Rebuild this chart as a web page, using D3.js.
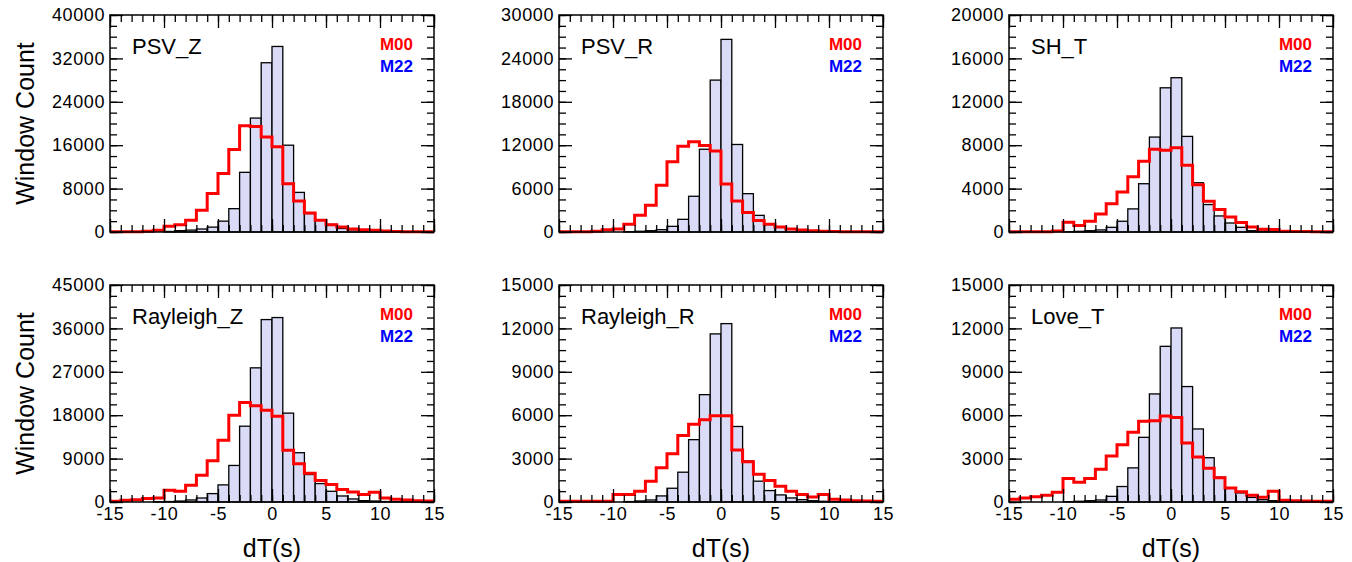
<!DOCTYPE html>
<html>
<head>
<meta charset="utf-8">
<script src="https://cdnjs.cloudflare.com/ajax/libs/d3/7.8.5/d3.min.js"></script>
<style>
body { margin: 0; background: #fff; }
text { font-family: "Liberation Sans", Arial, Helvetica, sans-serif; }
</style>
</head>
<body>
<div id="svgcontainer"></div>
<script>
// bins of 1 s from -15 to 15
var binStarts = d3.range(-15, 15, 1);
var xMajor = [-15, -10, -5, 0, 5, 10, 15];

var panelNames = ["PSV_Z", "PSV_R", "SH_T", "Rayleigh_Z", "Rayleigh_R", "Love_T"];
var yMaxes = [40000, 30000, 20000, 45000, 15000, 15000];
var legendLabels = ["M00", "M22"];

var m22_psvZ = [0,0,0,0,0,100,250,350,550,900,2000,4300,11000,21000,31200,34200,16000,7300,3400,2150,1400,650,400,250,150,80,30,20,10,0];
var m00_psvZ = [50,50,50,150,300,1050,1350,2150,4000,7100,10800,15200,19600,19450,17500,15700,8900,5700,3500,2150,1350,900,550,430,300,180,100,60,40,30];

var m22_psvR = [0,0,0,0,0,0,50,100,180,320,780,1750,4940,11440,21000,26630,12100,5300,2300,1150,650,400,270,180,100,50,30,20,10,0];
var m00_psvR = [30,30,30,90,320,400,1060,2300,3700,6460,9700,11860,12460,11950,11200,6650,4300,2680,1600,1060,700,400,270,180,90,60,40,30,20,20];

var m22_shT = [0,0,0,0,0,30,60,120,190,430,990,2130,4450,8750,13290,14220,8810,4540,2530,1480,830,430,120,90,50,30,20,10,0,0];
var m00_shT = [30,30,30,30,90,900,590,990,1670,2600,3680,5100,6520,7630,7540,7760,6150,4360,2840,2070,1390,870,460,250,220,60,50,40,30,30];

var m22_rayZ = [0,0,0,0,50,100,200,420,830,1740,3550,7580,15720,27820,37830,38250,18430,10220,5700,3820,2220,1250,630,280,200,100,50,30,20,0];
var m00_rayZ = [140,350,490,700,830,2430,2220,3480,5560,8550,12800,18010,20650,19960,19050,17800,10710,7930,5980,4450,3620,2570,2090,1530,2020,830,560,420,280,200];

var m22_rayR = [0,0,0,0,0,0,30,70,140,420,950,2060,4310,7420,11620,12330,5220,2830,1440,790,490,280,160,90,50,30,20,10,0,0];
var m00_rayR = [50,50,50,50,50,510,510,740,1440,2360,3340,4590,5380,5680,5960,5960,3590,2780,1920,1480,1090,740,510,350,510,190,140,90,70,50];

var m22_loveT = [0,0,0,0,0,20,50,90,140,390,1070,2360,4470,7470,10760,12030,7980,5050,3060,1720,970,630,320,160,90,50,30,20,10,0];
var m00_loveT = [190,280,370,460,670,1620,1370,1620,2270,3180,3960,4820,5590,5610,5940,5840,4080,3110,2340,1670,970,700,460,320,740,120,90,70,60,50];

var m22All = [m22_psvZ, m22_psvR, m22_shT, m22_rayZ, m22_rayR, m22_loveT];
var m00All = [m00_psvZ, m00_psvR, m00_shT, m00_rayZ, m00_rayR, m00_loveT];

var width = 1352;
var height = 562;
var colLeft = [110, 559, 1009];
var rowTop = [15, 285];
var pw = 324;
var ph = 217;

var svg = d3.select("#svgcontainer")
   .append("svg")
   .attr("width", width)
   .attr("height", height);

// plain hyphen minus like the original
function plainLabel(d){ return String(d); }

panelNames.forEach(function(name, p){
   var col = p % 3;
   var row = Math.floor(p / 3);
   var x = d3.scaleLinear().domain([-15, 15]).range([0, pw]);
   var y = d3.scaleLinear().domain([0, yMaxes[p]]).range([ph, 0]);
   var yStep = yMaxes[p] / 5;

   var g = svg.append("g")
      .attr("transform", "translate(" + colLeft[col] + "," + rowTop[row] + ")");

   // M22 bars
   g.selectAll("rect.bar")
      .data(m22All[p])
      .enter()
      .append("rect")
      .attr("class", "bar")
      .attr("x", function(d, i){ return x(binStarts[i]); })
      .attr("width", function(d, i){ return x(binStarts[i] + 1) - x(binStarts[i]); })
      .attr("y", function(d){ return y(d); })
      .attr("height", function(d){ return ph - y(d); })
      .attr("fill", "#d9dbf7")
      .attr("stroke", "#000")
      .attr("stroke-width", 1.3);

   // M00 step line
   var pts = m00All[p].map(function(d, i){ return [binStarts[i], d]; });
   pts.push([15, m00All[p][m00All[p].length - 1]]);
   var line = d3.line()
      .x(function(d){ return x(d[0]); })
      .y(function(d){ return y(d[1]); })
      .curve(d3.curveStepAfter);
   g.append("path")
      .attr("d", line(pts))
      .attr("fill", "none")
      .attr("stroke", "#ff0000")
      .attr("stroke-width", 3);

   // axes, ticks pointing inward
   var yMajor = d3.range(0, yMaxes[p] + 1, yStep);
   var yMinor = d3.range(0, yMaxes[p] + 1, yStep / 4);
   var xMinor = d3.range(-15, 16, 1);

   function addAxis(axis, tx, ty, labels){
      var a = g.append("g")
         .attr("transform", "translate(" + tx + "," + ty + ")")
         .call(axis);
      a.select(".domain").remove();
      a.selectAll("line").attr("stroke", "#000").attr("stroke-width", 1.3);
      a.selectAll("text")
         .attr("font-family", "Liberation Sans, Arial, sans-serif")
         .attr("font-size", 18)
         .attr("letter-spacing", 0.6)
         .attr("fill", "#000");
      if(!labels) a.selectAll("text").remove();
      return a;
   }

   addAxis(d3.axisLeft(y).tickValues(yMinor).tickSize(-7).tickFormat(""), 0, 0, false);
   addAxis(d3.axisRight(y).tickValues(yMinor).tickSize(-7).tickFormat(""), pw, 0, false);
   addAxis(d3.axisLeft(y).tickValues(yMajor).tickSize(-13).tickPadding(5).tickFormat(plainLabel), 0, 0, true);
   addAxis(d3.axisRight(y).tickValues(yMajor).tickSize(-13).tickFormat(""), pw, 0, false);

   addAxis(d3.axisTop(x).tickValues(xMinor).tickSize(-7).tickFormat(""), 0, 0, false);
   addAxis(d3.axisBottom(x).tickValues(xMinor).tickSize(-7).tickFormat(""), 0, ph, false);
   addAxis(d3.axisTop(x).tickValues(xMajor).tickSize(-13).tickFormat(""), 0, 0, false);
   addAxis(d3.axisBottom(x).tickValues(xMajor).tickSize(-13).tickPadding(5).tickFormat(plainLabel), 0, ph, row == 1);

   // frame
   g.append("rect")
      .attr("width", pw)
      .attr("height", ph)
      .attr("fill", "none")
      .attr("stroke", "#000")
      .attr("stroke-width", 1.5);

   // panel name
   g.append("text")
      .attr("x", 22)
      .attr("y", 39)
      .attr("font-size", 22)
      .text(name);

   // legend
   g.append("text")
      .attr("x", pw - 21)
      .attr("y", 35)
      .attr("text-anchor", "end")
      .attr("font-size", 17)
      .attr("font-weight", "bold")
      .attr("fill", "#ff0000")
      .text(legendLabels[0]);
   g.append("text")
      .attr("x", pw - 21)
      .attr("y", 57)
      .attr("text-anchor", "end")
      .attr("font-size", 17)
      .attr("font-weight", "bold")
      .attr("fill", "#0000ff")
      .text(legendLabels[1]);

   if(col == 0){
      svg.append("text")
         .attr("transform", "translate(34," + (rowTop[row] + ph / 2) + ") rotate(-90)")
         .attr("text-anchor", "middle")
         .attr("font-size", 25)
         .text("Window Count");
   }
   if(row == 1){
      svg.append("text")
         .attr("x", colLeft[col] + pw / 2)
         .attr("y", 557)
         .attr("text-anchor", "middle")
         .attr("font-size", 25)
         .text("dT(s)");
   }
});
</script>
</body>
</html>
